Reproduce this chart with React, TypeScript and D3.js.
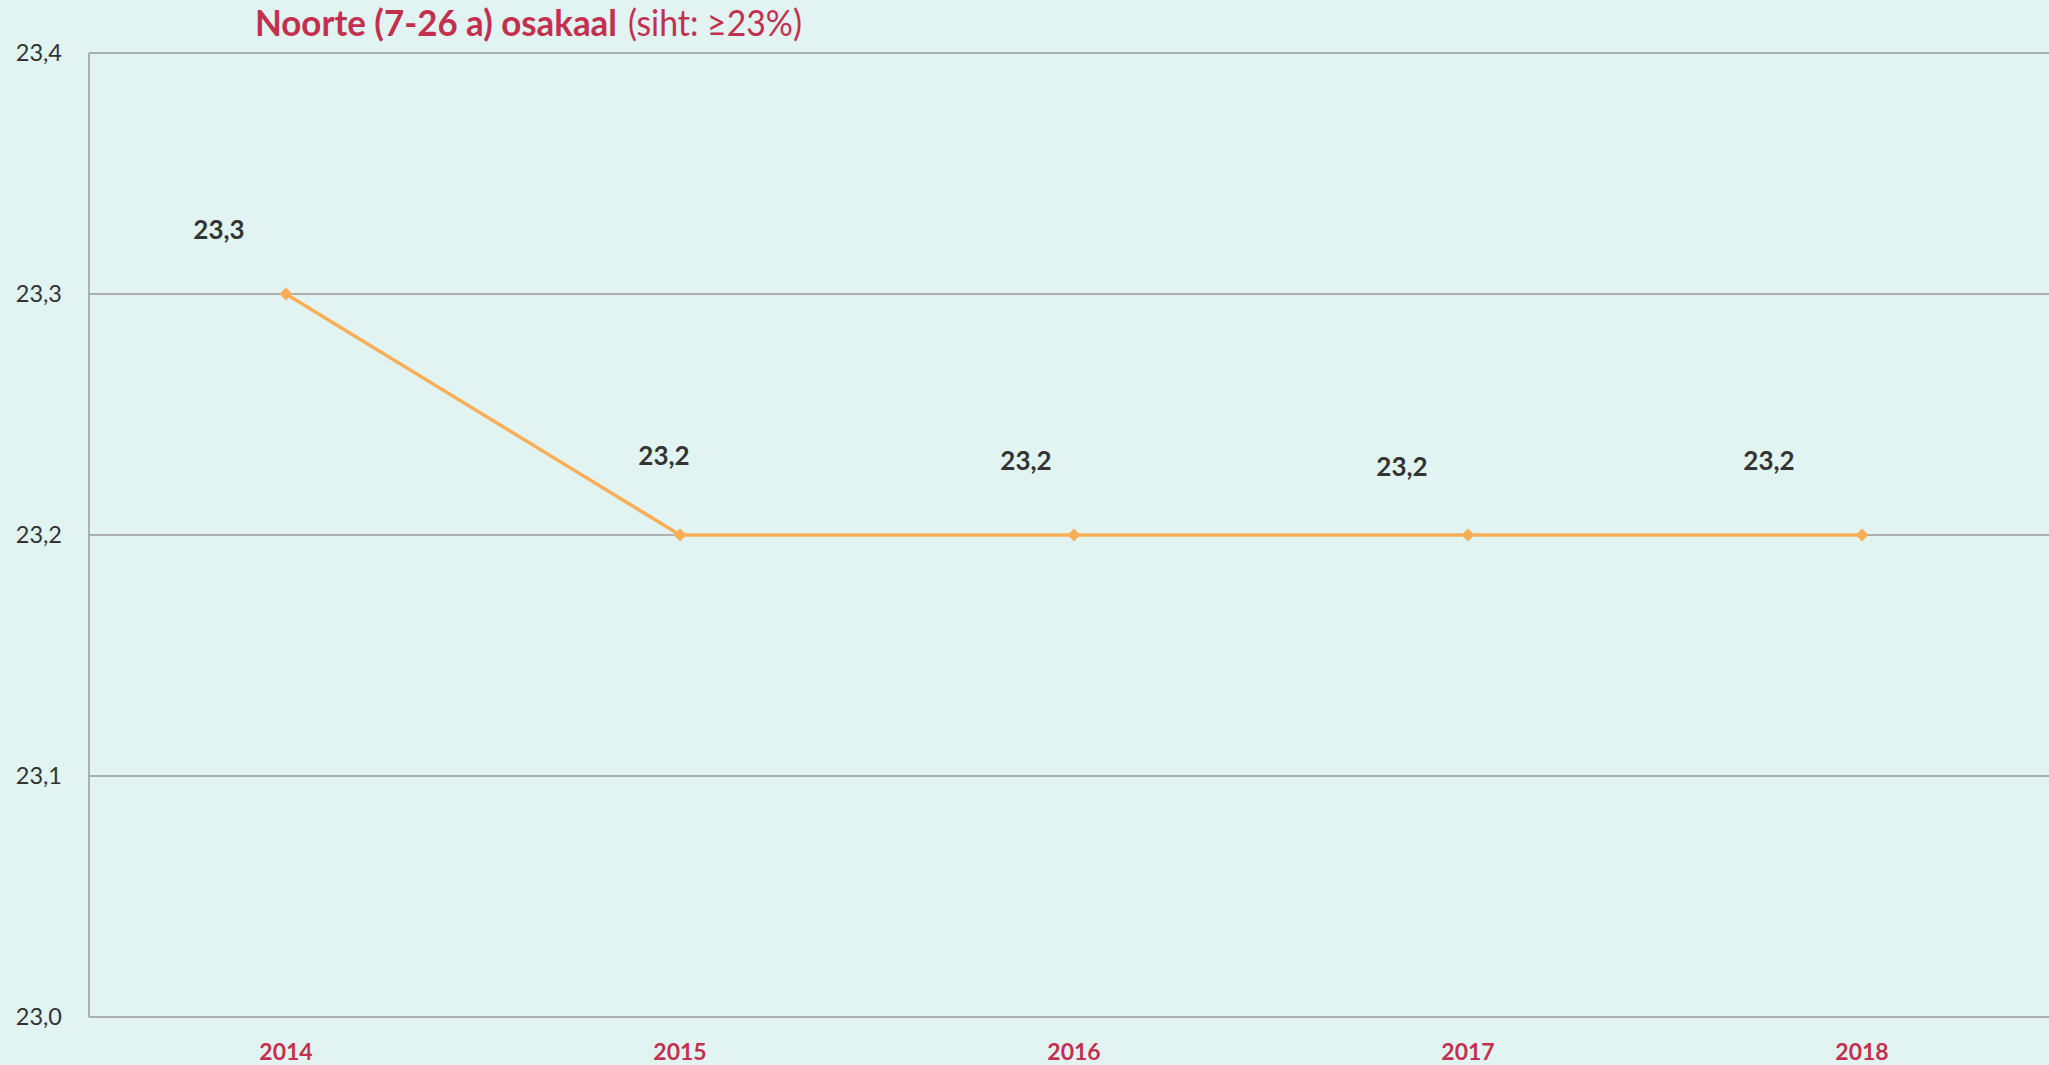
import React from "react";
import * as d3 from "d3";

const categories = ["2014", "2015", "2016", "2017", "2018"];
const values = [23.3, 23.2, 23.2, 23.2, 23.2];
const valueLabels = ["23,3", "23,2", "23,2", "23,2", "23,2"];
const yTicks = [23.0, 23.1, 23.2, 23.3, 23.4];
const yTickLabels = ["23,0", "23,1", "23,2", "23,3", "23,4"];
const titleBold = "Noorte (7-26 a) osakaal";
const titleNormal = "(siht: ≥23%)";

// manual label offsets (layout, px) relative to each point
const labelDx = [-67, -16, -48, -66, -93];
const labelDy = [-64, -79, -74, -68, -74];

const W = 2049;
const H = 1065;
const FONT = "Lato, 'Open Sans', sans-serif";

export default function App() {
  document.body.style.margin = "0";
  const left = 89;
  const top = 53;
  const bottom = 1017;
  const band = 394;
  const x = d3
    .scaleBand<string>()
    .domain(categories)
    .range([left, left + band * categories.length])
    .paddingInner(0)
    .paddingOuter(0);
  const y = d3.scaleLinear().domain([23.0, 23.4]).range([bottom, top]);
  const cx = (c: string) => (x(c) as number) + x.bandwidth() / 2;

  const line = d3
    .line<number>()
    .x((_, i) => cx(categories[i]))
    .y((v) => y(v));

  const bg = "#E1F4F1";
  const orange = "#FAAE57";
  const crimson = "#C3304F";

  return (
    <svg width={W} height={H} style={{ position: "absolute", left: 0, top: 0, display: "block" }}>
      <rect x={0} y={0} width={W} height={H} fill={bg} />
      {yTicks.map((t, i) => (
        <g key={t}>
          <line
            x1={left}
            x2={W}
            y1={y(t)}
            y2={y(t)}
            stroke="#9a9a9a"
            strokeWidth={1.3}
          />
          <text
            x={62}
            y={y(t)}
            dy="0.35em"
            textAnchor="end"
            fontFamily={FONT}
            fontSize={23.5}
            fill="#333"
          >
            {yTickLabels[i]}
          </text>
        </g>
      ))}
      <line x1={left} x2={left} y1={top} y2={bottom} stroke="#9a9a9a" strokeWidth={1.5} />
      {categories.map((c) => (
        <text
          key={c}
          x={cx(c)}
          y={1052}
          dy="0.35em"
          textAnchor="middle"
          fontFamily={FONT}
          fontWeight="bold"
          fontSize={23}
          fill={crimson}
        >
          {c}
        </text>
      ))}
      <path d={line(values) || ""} fill="none" stroke={orange} strokeWidth={3.5} />
      {values.map((v, i) => {
        const px = cx(categories[i]);
        const py = y(v);
        const s = 6.5;
        return (
          <path
            key={i}
            d={`M${px},${py - s}L${px + s},${py}L${px},${py + s}L${px - s},${py}Z`}
            fill={orange}
          />
        );
      })}
      {values.map((v, i) => (
        <text
          key={"l" + i}
          x={cx(categories[i]) + labelDx[i]}
          y={y(v) + labelDy[i]}
          dy="0.35em"
          textAnchor="middle"
          fontFamily={FONT}
          fontWeight="bold"
          fontSize={26}
          fill="#333"
        >
          {valueLabels[i]}
        </text>
      ))}
      <text x={255} y={36} fontFamily={FONT} fontSize={36} fill={crimson}>
        <tspan fontWeight="bold" textLength={362} lengthAdjust="spacingAndGlyphs">
          {titleBold}
        </tspan>
        <tspan x={628} textLength={174} lengthAdjust="spacingAndGlyphs">
          {titleNormal}
        </tspan>
      </text>
    </svg>
  );
}
